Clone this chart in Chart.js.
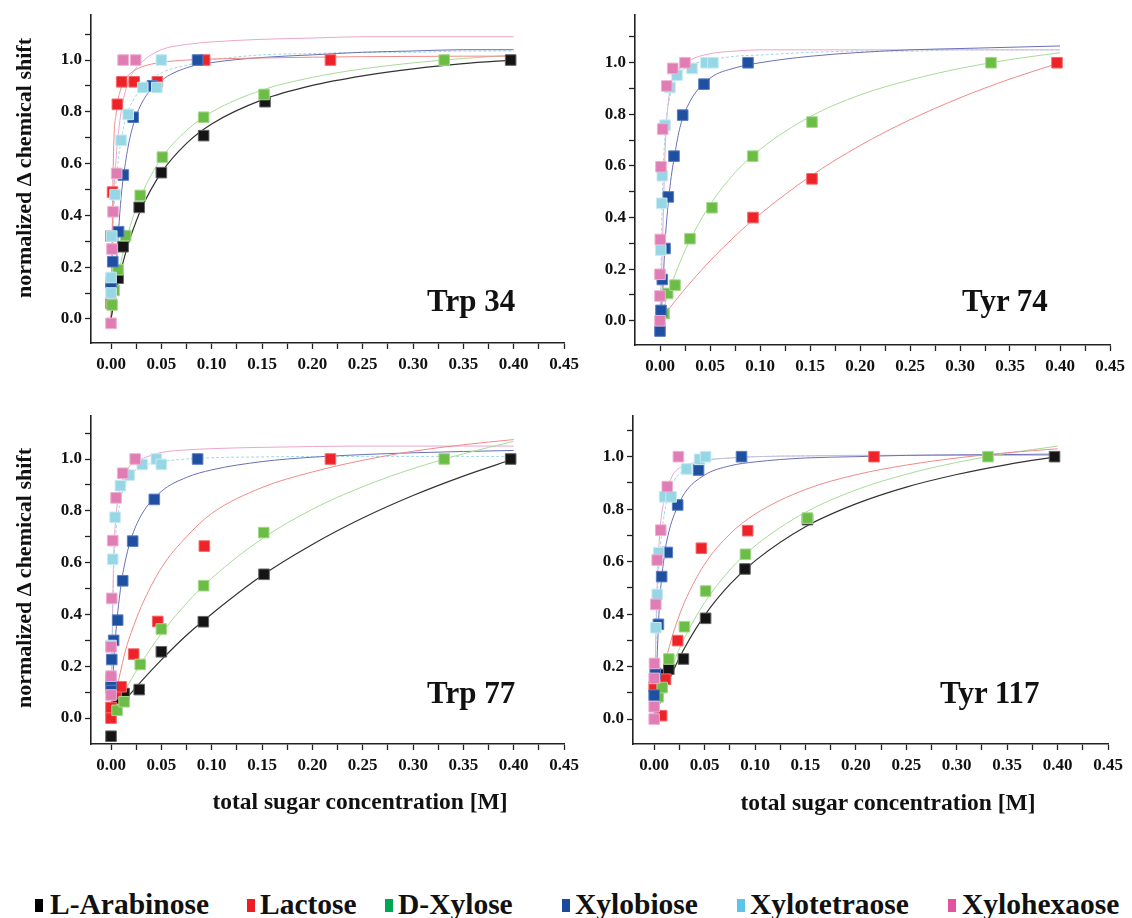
<!DOCTYPE html>
<html><head><meta charset="utf-8">
<script src="https://cdn.jsdelivr.net/npm/chart.js@4.4.1/dist/chart.umd.min.js"></script>
<style>
html,body{margin:0;padding:0;background:#fff;}
#wrap{position:relative;width:1132px;height:918px;overflow:hidden;font-family:'Liberation Serif','Times New Roman',serif;}
canvas{position:absolute;}
.t{position:absolute;font-weight:bold;color:#111;white-space:nowrap;line-height:1;}
.ytitle{font-size:22px;transform:translate(-50%,-50%) rotate(-90deg);}
.xtitle{font-size:23.5px;transform:translate(-50%,-50%);}
.plabel{font-size:31px;transform:translateY(-50%);}
.leg{position:absolute;top:905px;transform:translateY(-50%);font-weight:bold;font-size:29.5px;color:#111;white-space:nowrap;line-height:1;}
.sw{position:absolute;width:8px;height:13px;top:899px;}
</style></head>
<body><div id="wrap">
<canvas id="c1" width="600" height="400" style="left:0;top:0"></canvas>
<canvas id="c2" width="587" height="400" style="left:545px;top:0"></canvas>
<canvas id="c3" width="600" height="418" style="left:0;top:400px"></canvas>
<canvas id="c4" width="587" height="418" style="left:545px;top:400px"></canvas>

<div class="t ytitle" style="left:24px;top:168px">normalized &Delta; chemical shift</div>
<div class="t ytitle" style="left:24px;top:578px">normalized &Delta; chemical shift</div>
<div class="t xtitle" style="left:360px;top:802px">total sugar concentration [M]</div>
<div class="t xtitle" style="left:888px;top:803px">total sugar concentration [M]</div>
<div class="t plabel" style="left:427px;top:300px">Trp 34</div>
<div class="t plabel" style="left:962px;top:300px">Tyr 74</div>
<div class="t plabel" style="left:427px;top:692px">Trp 77</div>
<div class="t plabel" style="left:940px;top:692px">Tyr 117</div>
<div id="legend"></div>
</div>
<script>
// ---- data ----
const SERIES = ['L-Arabinose', 'Lactose', 'D-Xylose', 'Xylobiose', 'Xylotetraose', 'Xylohexaose'];
const PANEL_LABELS = ['Trp 34', 'Tyr 74', 'Trp 77', 'Tyr 117'];
const X_TICKS = [0, 0.025, 0.05, 0.075, 0.1, 0.125, 0.15, 0.175, 0.2, 0.225, 0.25, 0.275, 0.3, 0.325, 0.35, 0.375, 0.4, 0.425, 0.45];
const Y_TICKS = [0, 0.1, 0.2, 0.3, 0.4, 0.5, 0.6, 0.7, 0.8, 0.9, 1.0, 1.1];
const CURVE_X = [0, 0.0025, 0.005, 0.01, 0.015, 0.02, 0.03, 0.05, 0.075, 0.1, 0.15, 0.2, 0.25, 0.3, 0.35, 0.4];

// measured points [x, y] per series (order of SERIES)
const TRP34_POINTS = [
  [[0.007,0.157],[0.012,0.279],[0.028,0.431],[0.05,0.565],[0.092,0.708],[0.153,0.839],[0.397,1.0]],
  [[0,0.06],[0,0.138],[0,0.32],[0.0015,0.49],[0.0063,0.829],[0.0106,0.916],[0.023,0.916],[0.046,0.916],[0.093,1.0],[0.218,1.0]],
  [[0.001,0.054],[0.003,0.11],[0.007,0.19],[0.0146,0.322],[0.029,0.477],[0.051,0.625],[0.092,0.779],[0.152,0.867],[0.331,1.0]],
  [[0,0.14],[0.0017,0.221],[0.0075,0.337],[0.0122,0.556],[0.022,0.779],[0.041,0.9],[0.086,1.0]],
  [[0,0.10],[0,0.16],[0.0007,0.32],[0.004,0.48],[0.01,0.69],[0.017,0.79],[0.0315,0.894],[0.0455,0.894],[0.05,1.0]],
  [[0,-0.017],[0.001,0.27],[0.002,0.414],[0.0056,0.562],[0.012,1.0],[0.0245,1.0]]
];
const TYR74_POINTS = [
  [],
  [[0.093,0.40],[0.152,0.55],[0.397,1.0]],
  [[0.004,0.028],[0.0077,0.106],[0.015,0.138],[0.03,0.318],[0.052,0.438],[0.0927,0.638],[0.152,0.77],[0.331,1.0]],
  [[0,-0.04],[0.001,0.04],[0.0023,0.16],[0.005,0.28],[0.0083,0.48],[0.014,0.638],[0.0227,0.797],[0.044,0.917],[0.088,1.0]],
  [[0.0007,0.274],[0.0017,0.455],[0.0023,0.562],[0.005,0.758],[0.01,0.904],[0.017,0.952],[0.032,0.978],[0.046,1.0],[0.053,1.0]],
  [[0,0.0],[0,0.096],[0,0.18],[0.0003,0.315],[0.001,0.597],[0.0027,0.743],[0.0067,0.91],[0.0127,0.978],[0.025,1.0]]
];
const TRP77_POINTS = [
  [[0,-0.07],[0.007,0.076],[0.013,0.095],[0.028,0.11],[0.05,0.256],[0.0917,0.372],[0.152,0.555],[0.397,1.0]],
  [[0,0.0],[0,0.041],[0.005,0.095],[0.01,0.121],[0.0225,0.247],[0.0464,0.373],[0.0927,0.664],[0.218,1.0]],
  [[0.006,0.03],[0.013,0.063],[0.029,0.207],[0.05,0.344],[0.092,0.511],[0.1517,0.716],[0.331,1.0]],
  [[0,0.115],[0,0.147],[0.0007,0.226],[0.0026,0.30],[0.0066,0.378],[0.0116,0.53],[0.0215,0.683],[0.043,0.844],[0.086,1.0]],
  [[0,0.28],[0.0017,0.613],[0.004,0.775],[0.0093,0.897],[0.018,0.938],[0.031,0.979],[0.045,1.0],[0.05,0.979]],
  [[0,0.089],[0,0.162],[0,0.275],[0.0007,0.462],[0.0017,0.685],[0.005,0.85],[0.0116,0.945],[0.024,1.0]]
];
const TYR117_POINTS = [
  [[0.01,0.17],[0.0145,0.19],[0.029,0.229],[0.051,0.384],[0.09,0.572],[0.152,0.76],[0.397,1.0]],
  [[0,0.123],[0.0074,0.013],[0.0113,0.152],[0.0233,0.299],[0.0468,0.651],[0.0927,0.718],[0.218,1.0]],
  [[0.004,0.085],[0.008,0.12],[0.0145,0.229],[0.03,0.352],[0.051,0.488],[0.0905,0.628],[0.152,0.766],[0.331,1.0]],
  [[0,0.091],[0.001,0.174],[0.0042,0.361],[0.0074,0.543],[0.013,0.635],[0.0233,0.816],[0.044,0.949],[0.0866,1.0]],
  [[0.0016,0.348],[0.003,0.475],[0.0045,0.634],[0.0103,0.847],[0.0168,0.847],[0.032,0.953],[0.045,0.99],[0.051,1.0]],
  [[0,0.0],[0,0.047],[0,0.155],[0.0003,0.212],[0.0016,0.437],[0.003,0.606],[0.0065,0.72],[0.013,0.886],[0.024,1.0]]
];

// fitted curves, y at CURVE_X
const TRP34_CURVES = [
  [0,0.054,0.103,0.189,0.262,0.324,0.425,0.565,0.678,0.753,0.846,0.902,0.939,0.966,0.986,1.0],
  [0,0.647,0.792,0.892,0.931,0.951,0.973,0.991,1.0,1.004,1.008,1.011,1.013,1.014,1.015,1.015],
  [0,0.065,0.123,0.222,0.303,0.371,0.477,0.62,0.728,0.799,0.884,0.933,0.966,0.989,1.006,1.019],
  [0,0.08,0.2,0.47,0.62,0.72,0.83,0.92,0.97,0.99,1.01,1.02,1.03,1.035,1.04,1.04],
  [0,0.38,0.53,0.69,0.78,0.83,0.89,0.95,0.98,1.0,1.02,1.025,1.03,1.03,1.035,1.035],
  [0,0.45,0.62,0.8,0.89,0.94,0.99,1.04,1.06,1.07,1.08,1.085,1.09,1.09,1.09,1.09]
];
const TYR74_CURVES = [
  [],
  [0,0.013,0.026,0.051,0.076,0.1,0.146,0.232,0.328,0.413,0.559,0.679,0.779,0.864,0.937,1.0],
  [0,0.034,0.066,0.125,0.178,0.227,0.313,0.449,0.574,0.664,0.791,0.875,0.933,0.978,1.012,1.039],
  [0,0.1,0.3,0.52,0.65,0.75,0.85,0.94,0.98,1.0,1.025,1.04,1.05,1.055,1.06,1.065],
  [0,0.5,0.72,0.87,0.93,0.96,0.99,1.01,1.025,1.03,1.04,1.045,1.045,1.05,1.05,1.05],
  [0,0.3,0.65,0.9,0.95,0.98,1.01,1.035,1.045,1.05,1.05,1.05,1.05,1.05,1.05,1.05]
];
const TRP77_CURVES = [
  [0,0.013,0.025,0.05,0.074,0.097,0.142,0.225,0.32,0.402,0.55,0.67,0.772,0.859,0.934,1.0],
  [0,0.05,0.1,0.19,0.27,0.33,0.43,0.58,0.7,0.79,0.89,0.95,0.995,1.03,1.055,1.075],
  [0,0.02,0.04,0.078,0.114,0.149,0.213,0.326,0.443,0.54,0.692,0.806,0.893,0.963,1.02,1.068],
  [0,0.202,0.34,0.515,0.621,0.693,0.783,0.875,0.929,0.958,0.99,1.007,1.017,1.024,1.029,1.033],
  [0,0.55,0.72,0.85,0.91,0.94,0.97,0.99,1.0,1.005,1.008,1.01,1.01,1.01,1.01,1.01],
  [0,0.6,0.78,0.9,0.95,0.98,1.0,1.025,1.035,1.04,1.045,1.048,1.05,1.05,1.05,1.05]
];
const TYR117_CURVES = [
  [0,0.028,0.055,0.105,0.151,0.194,0.27,0.395,0.513,0.603,0.733,0.82,0.884,0.932,0.97,1.0],
  [0,0.057,0.109,0.2,0.276,0.341,0.445,0.59,0.705,0.781,0.875,0.931,0.968,0.995,1.015,1.03],
  [0,0.033,0.064,0.123,0.176,0.224,0.309,0.444,0.568,0.66,0.788,0.873,0.933,0.978,1.013,1.04],
  [0,0.2,0.42,0.62,0.72,0.78,0.86,0.93,0.965,0.98,0.995,1.0,1.005,1.007,1.008,1.01],
  [0,0.4,0.6,0.78,0.86,0.91,0.95,0.985,0.995,1.0,1.003,1.005,1.005,1.005,1.005,1.005],
  [0,0.45,0.68,0.84,0.9,0.94,0.965,0.985,0.995,1.0,1.003,1.005,1.005,1.005,1.005,1.005]
];

// ---- styles ----
const FILL = ['#141414', '#ee2229', '#6cbd45', '#1f4fa1', '#97d6e5', '#df7db4'];
const EDGE = ['#666666', '#f46a6a', '#a5d98e', '#5b7fc1', '#c6ebf3', '#eeb1d2'];
const LINE = ['#333333', '#f08a88', '#a8db96', '#6a6fb6', '#9fd8e6', '#eaa6cb'];
const LEG = ['#000000', '#ee1c24', '#00a651', '#1c4a9c', '#5bc6e8', '#e0559c'];
const TICK_FONT = {family: "'Liberation Serif', 'Times New Roman', serif", weight: 'bold', size: 17};

const PANELS = [
  {id: 'c1', w: 600, h: 400, area: {l: 91, t: 15, r: 564, b: 343}, xMin: -0.0199, yMin: -0.093, yMax: 1.174, points: TRP34_POINTS, curves: TRP34_CURVES},
  {id: 'c2', w: 587, h: 400, area: {l: 90, t: 15, r: 565, b: 345}, xMin: -0.025, yMin: -0.094, yMax: 1.185, points: TYR74_POINTS, curves: TYR74_CURVES},
  {id: 'c3', w: 600, h: 418, area: {l: 91, t: 16, r: 564, b: 344}, xMin: -0.0199, yMin: -0.1, yMax: 1.166, points: TRP77_POINTS, curves: TRP77_CURVES},
  {id: 'c4', w: 587, h: 418, area: {l: 88, t: 16, r: 563, b: 344}, xMin: -0.021, yMin: -0.095, yMax: 1.155, points: TYR117_POINTS, curves: TYR117_CURVES}
];

const near = (v, s) => Math.abs(Math.round(v / s) * s - v) < 1e-6;

function makeChart(p) {
  const datasets = [];
  SERIES.forEach((name, i) => {
    if (!p.curves[i].length) return;
    datasets.push({
      label: name + ' fit',
      data: CURVE_X.map((x, j) => ({x: x, y: p.curves[i][j]})),
      showLine: true, pointRadius: 0, borderColor: LINE[i], borderWidth: i === 0 ? 1.2 : 1,
      borderDash: i === 4 ? [3, 2] : [], cubicInterpolationMode: 'monotone', fill: false, order: 20
    });
  });
  SERIES.forEach((name, i) => {
    if (!p.points[i].length) return;
    datasets.push({
      label: name,
      data: p.points[i].map(d => ({x: d[0], y: d[1]})),
      showLine: false, pointStyle: 'rect', pointRadius: 7.5,
      backgroundColor: FILL[i], borderColor: EDGE[i], borderWidth: 1, order: 10 - i
    });
  });
  new Chart(document.getElementById(p.id), {
    type: 'scatter',
    data: {datasets},
    options: {
      responsive: false, animation: false, devicePixelRatio: 1,
      layout: {padding: {left: 0, top: p.area.t, right: p.w - p.area.r, bottom: 0}},
      plugins: {legend: {display: false}, tooltip: {enabled: false}},
      scales: {
        x: {
          type: 'linear', min: p.xMin, max: 0.45,
          afterBuildTicks: a => { a.ticks = X_TICKS.map(v => ({value: v})); },
          afterFit: a => { a.height = p.h - p.area.b; },
          ticks: {autoSkip: false, maxRotation: 0, padding: 5, color: '#111', font: TICK_FONT,
            callback: v => near(v, 0.05) ? v.toFixed(2) : ''},
          grid: {drawOnChartArea: false, drawTicks: true, tickLength: 6, tickColor: '#222', tickWidth: 1.3},
          border: {display: true, color: '#222', width: 1.6}
        },
        y: {
          type: 'linear', min: p.yMin, max: p.yMax,
          afterBuildTicks: a => { a.ticks = Y_TICKS.map(v => ({value: v})); },
          afterFit: a => { a.width = p.area.l; },
          ticks: {autoSkip: false, padding: 3, color: '#111', font: TICK_FONT,
            callback: v => near(v, 0.2) ? v.toFixed(1) : ''},
          grid: {drawOnChartArea: false, drawTicks: true, tickLength: 6, tickColor: '#222', tickWidth: 1.3},
          border: {display: true, color: '#222', width: 1.6}
        }
      }
    }
  });
}
PANELS.forEach(makeChart);

// legend
const LEG_POS = [[35, 50], [247, 260], [385, 398], [562, 575], [737, 750], [948, 962]];
const legend = document.getElementById('legend');
SERIES.forEach((name, i) => {
  const sw = document.createElement('div');
  sw.className = 'sw';
  sw.style.left = LEG_POS[i][0] + 'px';
  sw.style.background = LEG[i];
  legend.appendChild(sw);
  const tx = document.createElement('div');
  tx.className = 'leg';
  tx.style.left = LEG_POS[i][1] + 'px';
  tx.textContent = name;
  legend.appendChild(tx);
});
</script>
</body></html>
